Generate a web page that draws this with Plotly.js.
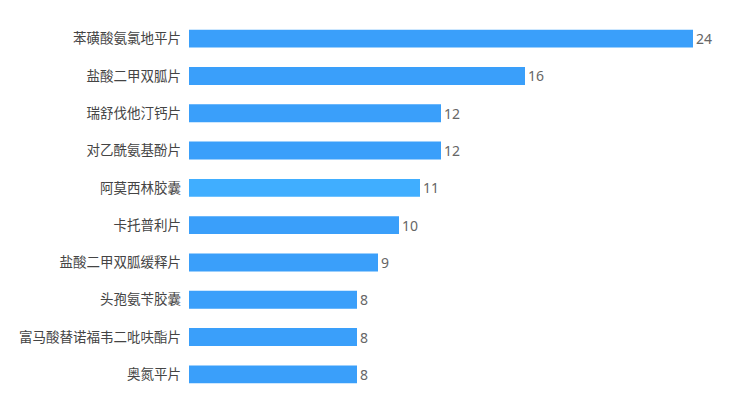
<!DOCTYPE html>
<html><head><meta charset="utf-8">
<script src="https://cdn.plot.ly/plotly-3.0.1.min.js"></script>
<style>html,body{margin:0;padding:0;background:#fff;}#chart{width:734px;height:398px;}</style>
</head><body><div id="chart"></div>
<script>
const drugs = ["苯磺酸氨氯地平片","盐酸二甲双胍片","瑞舒伐他汀钙片","对乙酰氨基酚片","阿莫西林胶囊","卡托普利片","盐酸二甲双胍缓释片","头孢氨苄胶囊","富马酸替诺福韦二吡呋酯片","奥氮平片"];
const counts = [24,16,12,12,11,10,9,8,8,8];
const barColors = ["#3a9ffa","#3a9ffa","#3a9ffa","#3a9ffa","#40aeff","#3a9ffa","#3a9ffa","#3a9ffa","#3a9ffa","#3a9ffa"];

const trace = {
  type: 'bar', orientation: 'h',
  x: counts, y: drugs,
  marker: {color: barColors},
  width: 0.48,
  text: counts.map(String), textposition: 'outside', cliponaxis: false, constraintext: 'none',
  textfont: {family: '"Noto Sans", "Noto Sans CJK SC", sans-serif', size: 14, color: '#666'},
  hoverinfo: 'none'
};
const layout = {
  width: 734, height: 398,
  margin: {l: 189, r: 41, t: 20, b: 5},
  paper_bgcolor: '#fff', plot_bgcolor: '#fff',
  showlegend: false,
  font: {family: '"Noto Sans CJK SC", "Noto Sans", sans-serif', size: 13.5, color: '#444'},
  xaxis: {range: [0, 24], visible: false, showgrid: false, zeroline: false, fixedrange: true},
  yaxis: {autorange: 'reversed', showgrid: false, zeroline: false, showline: false, ticks: '', ticklabelstandoff: 7,
          tickfont: {size: 13.5, color: '#444'}, fixedrange: true}
};
Plotly.newPlot('chart', [trace], layout, {displayModeBar: false, staticPlot: true});
</script></body></html>
